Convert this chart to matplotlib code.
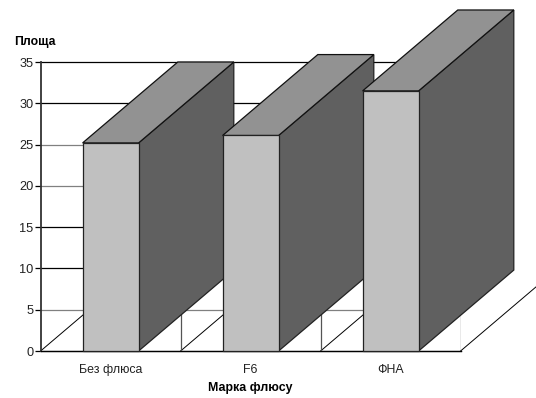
import matplotlib
matplotlib.use('Agg')
import matplotlib.pyplot as plt
from matplotlib.patches import Polygon

plt.rcParams['font.family'] = ['Liberation Sans', 'DejaVu Sans']

# data
categories = ['Без флюса', 'F6', 'ФНА']
values = [25.2, 26.1, 31.5]
yticks = [0, 5, 10, 15, 20, 25, 30, 35]
grey_ticks = [5, 20, 25]

# 3d look
bar_w = 0.4
dx = 0.68
dy = 9.8
W, H = 536, 398

fig = plt.figure(figsize=(W / 100, H / 100), dpi=100)
ax = fig.add_axes([40.6 / W, 1 - 351 / H, 420 / W, 289 / H])
ax.set_xlim(0, 3)
ax.set_ylim(0, 35)

# grid and floor, behind the bars
for t in yticks:
    col = '#808080' if t in grey_ticks else 'black'
    ax.plot([0, 3], [t, t], color=col, lw=0.9, zorder=1, clip_on=False)
for i in range(4):
    ax.plot([i, i + dx], [0, dy], color='black', lw=0.7, zorder=1, clip_on=False)
    if i > 0:
        ax.plot([i, i], [0, dy / 2], color='#555555', lw=0.9, zorder=1)

# bars
x = [i + 0.5 for i in range(len(values))]
for i in range(len(values)):
    l = x[i] - bar_w / 2
    r = x[i] + bar_w / 2
    v = values[i]
    z = 3 + i
    side = Polygon([(r, 0), (r + dx, dy), (r + dx, v + dy), (r, v)], closed=True,
                   fc='#606060', ec='#222222', lw=0.9, zorder=z, clip_on=False)
    top = Polygon([(l, v), (l + dx, v + dy), (r + dx, v + dy), (r, v)], closed=True,
                  fc='#929292', ec='#111111', lw=0.9, zorder=z, clip_on=False)
    ax.add_patch(side)
    ax.add_patch(top)
    ax.bar(x[i], v, bar_w, color='#c0c0c0', edgecolor='#222222', lw=0.9, zorder=z, clip_on=False)

ax.set_xticks(x)
ax.set_xticklabels(categories, fontsize=8.9, color='#222222')
ax.set_yticks(yticks)
ax.tick_params(axis='x', length=0, pad=9.2)
ax.tick_params(axis='y', length=4, width=0.9, pad=1, labelsize=9.2, labelcolor='#222222')
for s in ['top', 'right']:
    ax.spines[s].set_visible(False)
ax.spines['left'].set_linewidth(1.3)
ax.spines['left'].set_color('#333333')
ax.spines['bottom'].set_linewidth(0.9)
ax.patch.set_visible(False)

fig.text(14.5 / W, 1 - 41.5 / H, 'Площа', fontsize=8.8, fontweight='bold', va='center', ha='left')
fig.text(250.5 / W, 1 - 388 / H, 'Марка флюсу', fontsize=8.9, fontweight='bold', va='center', ha='center')

fig.savefig('out.png', dpi=100)
